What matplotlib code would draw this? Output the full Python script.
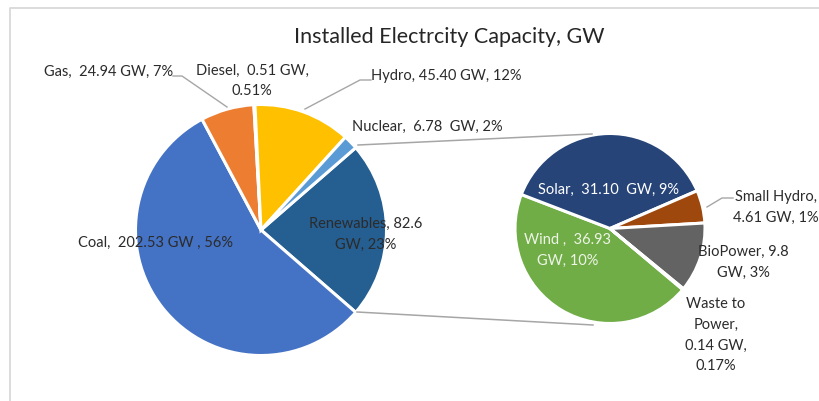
import matplotlib.pyplot as plt
import numpy as np

plt.rcParams['font.family'] = ['Lato', 'DejaVu Sans']

W, H = 819, 401  # canvas in pixels, drawn at dpi=100

# installed capacity, GW
main_names = ["Renewables", "Coal", "Gas", "Diesel", "Hydro", "Nuclear"]
main_gw = [82.6, 202.53, 24.94, 0.51, 45.40, 6.78]
main_colors = ["#255E91", "#4472C4", "#ED7D31", "#A5A5A5", "#FFC000", "#5B9BD5"]
main_text = ["Renewables, 82.6\nGW, 23%", "Coal,  202.53 GW , 56%",
             "Gas,  24.94 GW, 7%", "Diesel,  0.51 GW,\n0.51%",
             "Hydro, 45.40 GW, 12%", "Nuclear,  6.78  GW, 2%"]

# breakdown of the renewables slice, GW
ren_names = ["Wind", "Solar", "Small Hydro", "BioPower", "Waste to Power"]
ren_gw = [36.93, 31.10, 4.61, 9.8, 0.14]
ren_colors = ["#70AD47", "#264478", "#9E480E", "#636363", "#997300"]
ren_text = ["Wind ,  36.93\nGW, 10%", "Solar,  31.10  GW, 9%",
            "Small Hydro,\n4.61 GW, 1%", "BioPower, 9.8\nGW, 3%",
            "Waste to\nPower,\n0.14 GW,\n0.17%"]

fig = plt.figure(figsize=(W / 100, H / 100), dpi=100)
ax = fig.add_axes([0, 0, 1, 1])


def Y(y):
    return H - y


TXT = "#2b2b2b"
LINE = "#A6A6A6"

# main pie, renewables slice centred on the right
c1, r1 = (261, Y(230)), 125.5
start1 = 180 * main_gw[0] / sum(main_gw)
ax.pie(main_gw, colors=main_colors, startangle=start1, counterclock=False,
       center=c1, radius=r1,
       wedgeprops=dict(edgecolor="white", linewidth=2.2))

# secondary pie
c2, r2 = (610, Y(228.5)), 95
ax.pie(ren_gw, colors=ren_colors, startangle=-40, counterclock=False,
       center=c2, radius=r2,
       wedgeprops=dict(edgecolor="white", linewidth=2.2))

# connector lines between the pies
ax.plot([358, 592], [Y(145), Y(134)], color=LINE, lw=1.1)
ax.plot([357, 593], [Y(312), Y(325)], color=LINE, lw=1.1)

# leader lines
ax.plot([173, 182, 227], [Y(76), Y(76), Y(107)], color=LINE, lw=1)
ax.plot([371, 360, 305], [Y(80), Y(80), Y(109)], color=LINE, lw=1)
ax.plot([733, 722, 707], [Y(198), Y(198), Y(207)], color=LINE, lw=1)

fs = 10.5
lab = dict(fontsize=fs, color=TXT, ha="center", va="center", linespacing=1.62)

ax.text(366, Y(234.5), main_text[0], **lab)
ax.text(155, Y(243), main_text[1], **lab)
ax.text(109, Y(72), main_text[2], **lab)
ax.text(252, Y(81), main_text[3], **lab)
ax.text(446, Y(76), main_text[4], **lab)
ax.text(427, Y(127), main_text[5], **lab)

ax.text(568, Y(250), ren_text[0], **{**lab, "color": "#EEF4E8"})
ax.text(608, Y(190), ren_text[1], **{**lab, "color": "#FFFFFF"})
ax.text(776, Y(207.5), ren_text[2], **lab)
ax.text(743, Y(262), ren_text[3], **lab)
ax.text(716, Y(335), ren_text[4], **lab)

ax.text(449, Y(37), "Installed Electrcity Capacity, GW", fontsize=15.5,
        color="#262626", ha="center", va="center")

# chart frame
ax.plot([9.5, 9.5, W + 5], [-5, Y(7.5), Y(7.5)], color="#D9D9D9", lw=1.3)

ax.set_xlim(0, W)
ax.set_ylim(0, H)
ax.set_aspect("equal")
ax.axis("off")

fig.savefig("out.png", dpi=100, facecolor="white")
